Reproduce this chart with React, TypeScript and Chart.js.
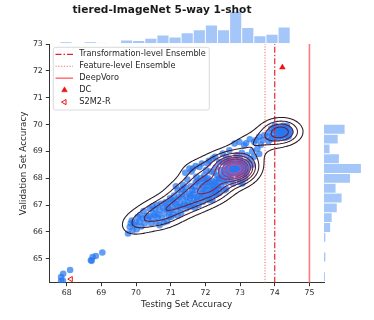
import React, { useEffect, useRef } from 'react';
import { Chart, registerables } from 'chart.js';

Chart.register(...registerables);

const FONT = '"DejaVu Sans", "Liberation Sans", sans-serif';

const TITLE = 'tiered-ImageNet 5-way 1-shot';
const X_LABEL = 'Testing Set Accuracy';
const Y_LABEL = 'Validation Set Accuracy';
const X_TICKS = [68, 69, 70, 71, 72, 73, 74, 75];
const Y_TICKS = [65, 66, 67, 68, 69, 70, 71, 72, 73];
const X_RANGE = [67.5, 75.42];
const Y_RANGE = [64.106, 73];

const TRANSFORMATION_ENSEMBLE = 74.0;
const FEATURE_ENSEMBLE = 73.72;
const DEEPVORO = 75.0;
const DC_POINT = [74.22, 72.13];
const S2M2R_POINT = [68.12, 64.24];

// ensemble members: [testing acc, validation acc]
const ENSEMBLE_POINTS = [
  [67.84, 64.32], [67.9, 64.44], [67.84, 64.17], [67.89, 64.19], [68.1, 64.58],
  [68.7, 64.94], [68.72, 64.92], [68.75, 65.06], [68.84, 65.1], [69.03, 65.23],
  [69.77, 65.94], [69.82, 66.18], [69.9, 66.05], [69.96, 66.25], [69.85, 66.32],
  [70.02, 66.1], [70.1, 66.38], [70.2, 66.5], [70.25, 66.31], [70.05, 66.55], [70.15, 66.2],
  [69.88, 66.42], [70.0, 66.35], [70.12, 66.62], [70.22, 66.78],
  [70.3, 66.6], [70.35, 66.45], [70.4, 66.85], [70.44, 66.31], [70.5, 66.7], [70.54, 66.62],
  [70.59, 66.37], [70.6, 67.0], [70.68, 66.25], [70.68, 66.81], [70.75, 66.5], [70.82, 66.68],
  [70.85, 67.1], [70.9, 66.4], [70.92, 66.93], [70.95, 66.75],
  [70.38, 66.58], [70.48, 66.95], [70.62, 66.55], [70.72, 67.05], [70.8, 66.35], [70.88, 66.85],
  [70.45, 66.5], [70.55, 66.85], [70.65, 66.65], [70.78, 66.9], [70.9, 67.05], [70.95, 66.55],
  [71.02, 66.56], [71.05, 66.95], [71.02, 67.18], [71.1, 67.35], [71.15, 67.7], [71.16, 66.81],
  [71.2, 67.55], [71.25, 67.3], [71.26, 67.06], [71.3, 66.7], [71.35, 67.24], [71.35, 67.75],
  [71.4, 67.5], [71.45, 66.87], [71.48, 67.95], [71.5, 67.1], [71.54, 67.43], [71.54, 68.36],
  [71.58, 67.7], [71.6, 66.95], [71.64, 67.06], [71.64, 68.36],
  [70.98, 67.25], [71.08, 66.65], [71.12, 67.05], [71.22, 66.95], [71.32, 67.42], [71.38, 66.98],
  [71.42, 67.65], [71.55, 67.25], [71.62, 67.55], [71.42, 68.2], [71.6, 68.25],
  [71.0, 66.8], [71.08, 67.15], [71.18, 67.2], [71.28, 66.9], [71.33, 67.6], [71.45, 67.3],
  [71.52, 66.98], [71.58, 67.35], [71.2, 66.6], [71.4, 67.05],
  [71.69, 67.68], [71.7, 67.55], [71.74, 68.05], [71.75, 67.3], [71.78, 67.9], [71.8, 67.0],
  [71.83, 67.8], [71.83, 68.42], [71.85, 67.6], [71.9, 67.45], [71.93, 67.12], [71.95, 67.35],
  [71.97, 68.11], [72.0, 67.85], [72.02, 67.55], [72.02, 68.3], [72.05, 67.25], [72.07, 68.55],
  [72.08, 68.0], [72.1, 67.7], [72.12, 67.18], [72.15, 67.45], [72.15, 68.25], [72.18, 67.9],
  [72.2, 67.2], [72.21, 68.73], [72.22, 67.6], [72.25, 67.38], [72.25, 68.2], [72.28, 67.85],
  [72.3, 67.6], [72.3, 68.4], [72.32, 67.4], [72.35, 68.1],
  [71.68, 67.2], [71.72, 67.85], [71.88, 67.25], [71.92, 67.7], [71.98, 67.5], [72.05, 67.95],
  [72.12, 67.85], [72.18, 67.55], [72.28, 67.5], [72.35, 67.7], [72.38, 67.85], [71.72, 68.45],
  [71.9, 68.55], [72.1, 68.65], [72.28, 68.8], [72.4, 68.6],
  [71.66, 67.4], [71.76, 67.15], [71.82, 67.35], [71.87, 68.0], [71.95, 67.95], [72.02, 67.7],
  [72.1, 67.35], [72.2, 67.75], [72.26, 67.7], [72.33, 67.95], [72.4, 67.6], [72.48, 67.95],
  [72.55, 67.55], [71.7, 66.9],
  [72.4, 68.0], [72.45, 68.3], [72.5, 68.6], [72.55, 68.15], [72.6, 68.45], [72.62, 67.9],
  [72.65, 68.3], [72.68, 68.6], [72.7, 68.1], [72.72, 68.4], [72.75, 68.25], [72.78, 68.5],
  [72.8, 68.35], [72.82, 68.2], [72.84, 68.3], [72.85, 68.45], [72.87, 68.38], [72.88, 68.28],
  [72.9, 68.4], [72.92, 68.32], [72.94, 68.5], [72.95, 68.2], [72.97, 68.35], [73.0, 68.45],
  [73.02, 68.25], [73.05, 68.6], [73.08, 68.35], [73.1, 68.15], [73.12, 68.5], [73.15, 68.3],
  [73.2, 68.6], [73.25, 68.4], [72.5, 68.92], [72.69, 69.04], [72.84, 69.29], [72.98, 69.35],
  [73.12, 69.23], [72.6, 68.8], [72.9, 68.85], [73.05, 68.95], [73.2, 68.85], [72.45, 67.7],
  [72.6, 67.6], [72.8, 67.8], [73.0, 67.85], [73.07, 67.8], [72.75, 67.95], [72.95, 68.0],
  [73.15, 68.0], [72.55, 67.85], [72.4, 67.45], [72.7, 68.7], [72.85, 68.65], [73.0, 68.7],
  [72.65, 68.05], [72.5, 68.1], [72.58, 68.3], [72.62, 68.6], [72.7, 68.35], [72.73, 68.18],
  [72.76, 68.42], [72.8, 68.55], [72.93, 68.25], [72.98, 68.55], [73.03, 68.38], [73.1, 68.45],
  [73.18, 68.2],
  [72.75, 68.32], [72.78, 68.4], [72.8, 68.28], [72.83, 68.36], [72.85, 68.3], [72.86, 68.42],
  [72.88, 68.35], [72.9, 68.3], [72.92, 68.4], [72.94, 68.35], [72.96, 68.28], [72.82, 68.45],
  [72.88, 68.22], [72.98, 68.4], [72.72, 68.26], [72.9, 68.48], [72.8, 68.2], [73.0, 68.3],
  [72.84, 68.38], [72.7, 68.42], [72.93, 68.18], [72.87, 68.5],
  [73.3, 68.7], [73.35, 69.0], [73.41, 69.35], [73.46, 69.42], [73.5, 69.1], [73.55, 69.54],
  [73.6, 69.25], [73.65, 69.42], [73.17, 69.3], [73.28, 69.45], [73.4, 68.8], [73.7, 69.6],
  [73.35, 68.5], [73.55, 68.9],
  [73.8, 69.55], [73.85, 69.7], [73.9, 69.45], [73.95, 69.6], [73.98, 69.8], [74.0, 69.5],
  [74.05, 69.7], [74.08, 69.6], [74.1, 69.85], [74.12, 69.75], [74.15, 69.65], [74.18, 69.72],
  [74.2, 69.8], [74.22, 69.68], [74.25, 69.75], [74.28, 69.9], [74.3, 69.62], [74.32, 69.78],
  [74.35, 69.7], [74.38, 69.85], [74.4, 69.65], [74.42, 69.8], [74.45, 69.72], [74.15, 69.9],
  [74.25, 69.95], [74.05, 69.9], [74.3, 69.5], [74.1, 69.5], [74.2, 69.6], [74.35, 69.95],
  [73.9, 69.85], [74.0, 69.95], [74.18, 69.55], [74.27, 69.82], [74.4, 69.55], [73.82, 69.38],
];

// marginal histograms (bin centres and counts)
const X_HIST_CENTERS = [67.982, 68.331, 68.681, 69.03, 69.38, 69.729, 70.078, 70.428, 70.777, 71.127,
  71.476, 71.825, 72.175, 72.524, 72.874, 73.223, 73.572, 73.922, 74.271];
const X_HIST_COUNTS = [5, 0, 5, 1, 0, 12, 10, 18, 29, 22, 37, 48, 65, 48, 114, 56, 27, 32, 58];
const Y_HIST_CENTERS = [64.333, 64.699, 65.065, 65.431, 65.797, 66.163, 66.529, 66.895, 67.261,
  67.627, 67.993, 68.359, 68.725, 69.091, 69.457, 69.823];
const Y_HIST_COUNTS = [4, 0, 6, 0, 6, 22, 27, 44, 60, 40, 88, 124, 51, 20, 47, 70];

const POINT_COLOR = 'rgba(40,120,240,0.72)';
const HIST_COLOR = 'rgba(40,120,240,0.42)';
const CONTOUR_STOPS = [[40, 26, 34], [100, 28, 56], [170, 36, 88], [236, 66, 130]];
const KDE_NLEVELS = 10;
const BW_ADJUST = 0.8;

let contourCache = null;

function contourColor(t) {
  const n = CONTOUR_STOPS.length - 1;
  const p = Math.min(n - 1e-9, Math.max(0, t * n));
  const i = Math.floor(p);
  const f = p - i;
  const a = CONTOUR_STOPS[i], b = CONTOUR_STOPS[i + 1];
  const c = a.map((v, k) => Math.round(v + (b[k] - v) * f));
  return `rgb(${c[0]},${c[1]},${c[2]})`;
}

function quantile(sorted, q) {
  const pos = (sorted.length - 1) * q;
  const lo = Math.floor(pos), hi = Math.ceil(pos);
  return sorted[lo] + (sorted[hi] - sorted[lo]) * (pos - lo);
}

function scottBw(vals) {
  const n = vals.length;
  const mean = vals.reduce((s, v) => s + v, 0) / n;
  const sd = Math.sqrt(vals.reduce((s, v) => s + (v - mean) * (v - mean), 0) / (n - 1));
  const s = [...vals].sort((a, b) => a - b);
  const iqr = quantile(s, 0.75) - quantile(s, 0.25);
  return 1.059 * Math.min(sd, iqr / 1.349) * Math.pow(n, -0.2) * BW_ADJUST;
}

function computeContours() {
  if (contourCache) return contourCache;
  const pts = ENSEMBLE_POINTS;
  const n = pts.length;
  const bx = scottBw(pts.map((p) => p[0]));
  const by = scottBw(pts.map((p) => p[1]));
  const nx = 220, ny = 200;
  const gx0 = 66.8, gx1 = 75.8, gy0 = 63.3, gy1 = 71.3;
  const xs = [], ys = [];
  for (let i = 0; i < nx; i++) xs.push(gx0 + (i * (gx1 - gx0)) / (nx - 1));
  for (let j = 0; j < ny; j++) ys.push(gy0 + (j * (gy1 - gy0)) / (ny - 1));
  const z = new Float64Array(nx * ny);
  let zmax = 0;
  for (let j = 0; j < ny; j++) {
    for (let i = 0; i < nx; i++) {
      let s = 0;
      const x = xs[i], y = ys[j];
      for (let k = 0; k < n; k++) {
        const dx = (x - pts[k][0]) / bx, dy = (y - pts[k][1]) / by;
        const q = dx * dx + dy * dy;
        if (q < 40) s += Math.exp(-0.5 * q);
      }
      s /= n * 2 * Math.PI * bx * by;
      z[j * nx + i] = s;
      if (s > zmax) zmax = s;
    }
  }
  const step = zmax / KDE_NLEVELS;
  const levels = [];
  for (let k = 1; k < KDE_NLEVELS; k++) levels.push(k * step);
  const segsByLevel = levels.map((L) => {
    const segs = [];
    const interp = (xa, ya, va, xb, yb, vb) => {
      const t = (L - va) / (vb - va);
      return [xa + t * (xb - xa), ya + t * (yb - ya)];
    };
    for (let j = 0; j < ny - 1; j++) {
      for (let i = 0; i < nx - 1; i++) {
        const v0 = z[j * nx + i], v1 = z[j * nx + i + 1];
        const v2 = z[(j + 1) * nx + i + 1], v3 = z[(j + 1) * nx + i];
        const idx = (v0 > L ? 1 : 0) | (v1 > L ? 2 : 0) | (v2 > L ? 4 : 0) | (v3 > L ? 8 : 0);
        if (idx === 0 || idx === 15) continue;
        const x0 = xs[i], x1 = xs[i + 1], y0 = ys[j], y1 = ys[j + 1];
        const e = [null, null, null, null];
        if ((v0 > L) !== (v1 > L)) e[0] = interp(x0, y0, v0, x1, y0, v1);
        if ((v1 > L) !== (v2 > L)) e[1] = interp(x1, y0, v1, x1, y1, v2);
        if ((v2 > L) !== (v3 > L)) e[2] = interp(x1, y1, v2, x0, y1, v3);
        if ((v3 > L) !== (v0 > L)) e[3] = interp(x0, y1, v3, x0, y0, v0);
        const push = (p, q) => segs.push(p[0], p[1], q[0], q[1]);
        if (idx === 5 || idx === 10) {
          const center = (v0 + v1 + v2 + v3) / 4 > L;
          if ((idx === 5) === center) { push(e[0], e[1]); push(e[2], e[3]); }
          else { push(e[3], e[0]); push(e[1], e[2]); }
        } else {
          const found = e.filter((p) => p);
          if (found.length === 2) push(found[0], found[1]);
        }
      }
    }
    return segs;
  });
  contourCache = segsByLevel;
  return contourCache;
}

const contourPlugin = {
  id: 'kdeContours',
  afterDatasetsDraw(chart) {
    const segsByLevel = computeContours();
    const { ctx, chartArea, scales } = chart;
    const sx = scales.x, sy = scales.y;
    ctx.save();
    ctx.beginPath();
    ctx.rect(chartArea.left, chartArea.top, chartArea.right - chartArea.left, chartArea.bottom - chartArea.top);
    ctx.clip();
    ctx.lineWidth = 1.05;
    ctx.lineCap = 'round';
    ctx.lineJoin = 'round';
    const last = Math.max(1, segsByLevel.length - 1);
    segsByLevel.forEach((segs, k) => {
      ctx.strokeStyle = contourColor(k / last);
      ctx.beginPath();
      for (let m = 0; m < segs.length; m += 4) {
        ctx.moveTo(sx.getPixelForValue(segs[m]), sy.getPixelForValue(segs[m + 1]));
        ctx.lineTo(sx.getPixelForValue(segs[m + 2]), sy.getPixelForValue(segs[m + 3]));
      }
      ctx.stroke();
    });
    ctx.restore();
  },
};

function drawTriangle(ctx, x, y, r, rotDeg) {
  let rad = (rotDeg * Math.PI) / 180;
  ctx.beginPath();
  ctx.moveTo(x + Math.sin(rad) * r, y - Math.cos(rad) * r);
  rad += (2 * Math.PI) / 3;
  ctx.lineTo(x + Math.sin(rad) * r, y - Math.cos(rad) * r);
  rad += (2 * Math.PI) / 3;
  ctx.lineTo(x + Math.sin(rad) * r, y - Math.cos(rad) * r);
  ctx.closePath();
}

const legendPlugin = {
  id: 'boxLegend',
  afterDraw(chart) {
    const ctx = chart.ctx;
    const bx = 53.3, by = 47.3, bw = 156, bh = 62.7;
    ctx.save();
    ctx.beginPath();
    ctx.roundRect(bx, by, bw, bh, 2);
    ctx.fillStyle = 'rgba(255,255,255,0.85)';
    ctx.fill();
    ctx.strokeStyle = '#d0d0d0';
    ctx.lineWidth = 0.8;
    ctx.stroke();
    ctx.font = `8.2px ${FONT}`;
    ctx.textBaseline = 'middle';
    ctx.textAlign = 'left';
    let row = 0;
    chart.data.datasets.forEach((ds) => {
      if (!ds.label) return;
      const yy = 54.3 + row * 11.95;
      ctx.save();
      if (ds.showLine) {
        ctx.strokeStyle = ds.borderColor;
        ctx.lineWidth = ds.borderWidth;
        ctx.setLineDash(ds.borderDash || []);
        ctx.beginPath();
        ctx.moveTo(55.5, yy);
        ctx.lineTo(73, yy);
        ctx.stroke();
      } else {
        drawTriangle(ctx, 64.5, yy, ds.pointRadius, ds.pointRotation || 0);
        ctx.fillStyle = ds.pointBackgroundColor;
        ctx.fill();
        ctx.strokeStyle = ds.pointBorderColor;
        ctx.lineWidth = ds.pointBorderWidth;
        ctx.stroke();
      }
      ctx.restore();
      ctx.fillStyle = '#262626';
      ctx.fillText(ds.label, 79.3, yy);
      row++;
    });
    ctx.restore();
  },
};

function vline(label, value, color, width, dash) {
  return {
    label,
    data: [{ x: value, y: Y_RANGE[0] }, { x: value, y: Y_RANGE[1] }],
    showLine: true,
    borderColor: color,
    borderWidth: width,
    borderDash: dash,
    pointRadius: 0,
    pointHoverRadius: 0,
    fill: false,
  };
}

function mainConfig() {
  return {
    type: 'scatter',
    data: {
      datasets: [
        vline('Transformation-level Ensemble', TRANSFORMATION_ENSEMBLE, '#e3262c', 1.2, [6, 2, 1.5, 2]),
        vline('Feature-level Ensemble', FEATURE_ENSEMBLE, '#f06a6a', 1, [1.2, 1.6]),
        vline('DeepVoro', DEEPVORO, '#ff7b7b', 1.6, []),
        {
          label: 'DC',
          data: [{ x: DC_POINT[0], y: DC_POINT[1] }],
          pointStyle: 'triangle',
          pointRadius: 3.3,
          pointRotation: 0,
          pointBackgroundColor: '#f01010',
          pointBorderColor: '#f01010',
          pointBorderWidth: 0.5,
        },
        {
          label: 'S2M2-R',
          data: [{ x: S2M2R_POINT[0], y: S2M2R_POINT[1] }],
          pointStyle: 'triangle',
          pointRadius: 3,
          pointRotation: -90,
          pointBackgroundColor: '#ffffff',
          pointBorderColor: '#f01010',
          pointBorderWidth: 1,
        },
        {
          data: ENSEMBLE_POINTS.map((p) => ({ x: p[0], y: p[1] })),
          pointRadius: 3.3,
          pointBackgroundColor: POINT_COLOR,
          pointBorderWidth: 0,
          pointBorderColor: 'rgba(0,0,0,0)',
        },
      ],
    },
    options: {
      responsive: false,
      animation: false,
      devicePixelRatio: 1,
      events: [],
      layout: { padding: { left: 0, right: 50, top: 0, bottom: 0 } },
      plugins: {
        legend: { display: false },
        tooltip: { enabled: false },
        title: {
          display: true,
          text: TITLE,
          color: '#1a1a1a',
          font: { family: FONT, size: 10.6, weight: 'bold' },
          padding: { top: 4.3, bottom: 27 },
        },
      },
      scales: {
        x: {
          type: 'linear',
          min: X_RANGE[0],
          max: X_RANGE[1],
          afterBuildTicks: (s) => { s.ticks = X_TICKS.map((v) => ({ value: v })); },
          afterFit: (s) => { s.height = 37.3; },
          grid: { drawOnChartArea: false, drawTicks: true, tickLength: 3.5, color: '#333', lineWidth: 1 },
          border: { display: true, color: '#333', width: 1 },
          ticks: { font: { family: FONT, size: 7.8 }, color: '#262626', padding: 2, autoSkip: false, maxRotation: 0 },
          title: { display: true, text: X_LABEL, color: '#262626', font: { family: FONT, size: 8.8 }, padding: { top: 0, bottom: 9.7 } },
        },
        y: {
          type: 'linear',
          min: Y_RANGE[0],
          max: Y_RANGE[1],
          afterBuildTicks: (s) => { s.ticks = Y_TICKS.map((v) => ({ value: v })); },
          afterFit: (s) => { s.width = 49.3; },
          grid: { drawOnChartArea: false, drawTicks: true, tickLength: 3.5, color: '#333', lineWidth: 1 },
          border: { display: true, color: '#333', width: 1 },
          ticks: { font: { family: FONT, size: 7.8 }, color: '#262626', padding: 3, autoSkip: false },
          title: { display: true, text: Y_LABEL, color: '#262626', font: { family: FONT, size: 8.8 }, padding: { top: 18, bottom: 0 } },
        },
      },
    },
    plugins: [contourPlugin, legendPlugin],
  };
}

function topHistConfig() {
  return {
    type: 'bar',
    data: {
      datasets: [{
        data: X_HIST_CENTERS.map((c, i) => ({ x: c, y: X_HIST_COUNTS[i] })),
        backgroundColor: HIST_COLOR,
        borderColor: 'rgba(255,255,255,0.9)',
        borderWidth: 0.8,
        barPercentage: 1,
        categoryPercentage: 1,
      }],
    },
    options: {
      responsive: false,
      animation: false,
      devicePixelRatio: 1,
      events: [],
      layout: { padding: { left: 49.3, right: 50, top: 0, bottom: 0.7 } },
      plugins: { legend: { display: false }, tooltip: { enabled: false }, title: { display: false } },
      scales: {
        x: { type: 'linear', min: X_RANGE[0], max: X_RANGE[1], display: false, afterBuildTicks: (s) => { s.ticks = []; } },
        y: { type: 'linear', min: 0, max: 154, display: false },
      },
    },
  };
}

function rightHistConfig() {
  return {
    type: 'bar',
    data: {
      datasets: [{
        data: Y_HIST_CENTERS.map((c, i) => ({ x: Y_HIST_COUNTS[i], y: c })),
        backgroundColor: HIST_COLOR,
        borderColor: 'rgba(255,255,255,0.9)',
        borderWidth: 0.8,
        barPercentage: 1,
        categoryPercentage: 1,
      }],
    },
    options: {
      indexAxis: 'y',
      responsive: false,
      animation: false,
      devicePixelRatio: 1,
      events: [],
      layout: { padding: { left: 0, right: 0, top: 0, bottom: 0.3 } },
      plugins: { legend: { display: false }, tooltip: { enabled: false }, title: { display: false } },
      scales: {
        y: { type: 'linear', min: Y_RANGE[0], max: Y_RANGE[1], display: false, afterBuildTicks: (s) => { s.ticks = []; } },
        x: { type: 'linear', min: 0, max: 166, display: false },
      },
    },
  };
}

export default function App() {
  const mainRef = useRef(null);
  const topRef = useRef(null);
  const rightRef = useRef(null);
  useEffect(() => {
    const charts = [
      new Chart(topRef.current, topHistConfig() as any),
      new Chart(rightRef.current, rightHistConfig() as any),
      new Chart(mainRef.current, mainConfig() as any),
    ];
    return () => charts.forEach((c) => c.destroy());
  }, []);
  const abs = { position: 'absolute', display: 'block' } as const;
  return (
    <div style={{ position: 'absolute', left: 0, top: 0, width: 374, height: 320, background: '#fff' }}>
      <canvas ref={topRef} width={374} height={44} style={{ ...abs, left: 0, top: 0, width: 374, height: 44 }} />
      <canvas ref={rightRef} width={50} height={239} style={{ ...abs, left: 324, top: 44, width: 50, height: 239 }} />
      <canvas ref={mainRef} width={374} height={320} style={{ ...abs, left: 0, top: 0, width: 374, height: 320 }} />
    </div>
  );
}
